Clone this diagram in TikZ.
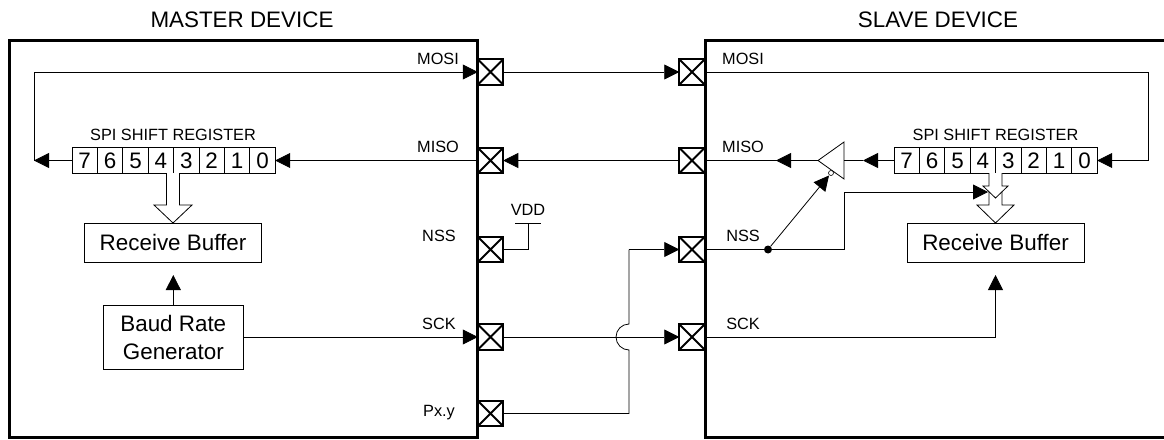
\documentclass[tikz,border=0pt]{standalone}
\usepackage{fontspec}
\setmainfont{Liberation Sans}
\usetikzlibrary{arrows.meta,positioning}
\begin{document}
\begin{tikzpicture}[
  x=1pt, y=-1pt,
  dev/.style={draw, line width=3pt},
  pad/.style={draw, line width=1.8pt, minimum size=25.5pt, inner sep=0pt, outer sep=0pt, path picture={\draw[line width=1.8pt] (path picture bounding box.north west) -- (path picture bounding box.south east) (path picture bounding box.north east) -- (path picture bounding box.south west);}},
  bit/.style={draw, line width=0.8pt, minimum width=25.4pt, minimum height=25.4pt, inner sep=0pt, outer sep=0pt, font=\fontsize{22.4}{22.4}\selectfont},
  buf/.style={draw, line width=0.8pt, align=center, inner sep=0pt, outer sep=0pt, font=\fontsize{22.4}{28}\selectfont},
  lbl/.style={font=\fontsize{16.3}{16.3}\selectfont},
  ttl/.style={font=\fontsize{22.4}{22.4}\selectfont},
  wire/.style={line width=0.8pt},
  arr/.style={wire, -{Triangle[length=15pt,width=15pt]}},
  hollow/.style={draw, line width=0.8pt, fill=white},
  dot/.style={circle, fill=black, inner sep=0pt, minimum size=8pt},
  bubble/.style={circle, draw, fill=white, line width=0.6pt, inner sep=0pt, minimum size=5pt}
]
\useasboundingbox (0,0) rectangle (1164,439);
% Devices
\node[ttl] (mtitle) at (242, 20) {MASTER DEVICE};
\node[ttl] (stitle) at (938, 20) {SLAVE DEVICE};
\draw[dev] (9, 40) rectangle (477, 437.5);
\draw[dev] (1166, 40) -- (705, 40) -- (705, 437.5) -- (1166, 437.5);

% Pads
\foreach \nm/\yy in {mosi/72, miso/160.5, nss/249.5, sck/337, pxy/413.5} {
  \node[pad] (m\nm) at (490.5, \yy) {};
}
\foreach \nm/\yy in {mosi/72, miso/160.5, nss/249.5, sck/337} {
  \node[pad] (s\nm) at (692, \yy) {};
}

% Pin labels
\node[lbl] (lmmosi) at (438, 59) {MOSI};
\node[lbl] (lmmiso) at (438, 147) {MISO};
\node[lbl] (lmnss) at (439, 236) {NSS};
\node[lbl] (lmsck) at (439, 324) {SCK};
\node[lbl] (lmpxy) at (439, 413) {Px.y};
\node[lbl] (lsmosi) at (743, 59) {MOSI};
\node[lbl] (lsmiso) at (743, 147) {MISO};
\node[lbl] (lsnss) at (743, 236) {NSS};
\node[lbl] (lssck) at (743, 324) {SCK};
\node[lbl] (lvdd) at (528, 210) {VDD};

% Shift registers
\foreach \n [count=\i from 0] in {7,6,5,4,3,2,1,0} {
  \node[bit] (ma\n) at (84.7+25.4*\i, 160.5) {\n};
  \node[bit] (sa\n) at (906.7+25.4*\i, 160.5) {\n};
}
\node[lbl] (mreg) at (173, 135) {SPI SHIFT REGISTER};
\node[lbl] (sreg) at (995.5, 135) {SPI SHIFT REGISTER};

% Buffers
\node[buf, minimum width=177pt, minimum height=39pt] (mbuf) at (173, 242.5) {Receive Buffer};
\node[buf, minimum width=140pt, minimum height=64pt] (baud) at (173.3, 337) {Baud Rate\\Generator};
\node[buf, minimum width=177pt, minimum height=39pt] (sbuf) at (995.5, 242.5) {Receive Buffer};

% Open arrows
\draw[hollow] (166.5, 173) -- (166.5, 205) -- (154, 205) -- (173, 223) -- (192, 205) -- (179.5, 205) -- (179.5, 173);
\draw[hollow] (989, 192) -- (989, 205) -- (977, 205) -- (995.5, 223) -- (1014, 205) -- (1002, 205) -- (1002, 192);
\draw[hollow] (989, 173) -- (989, 186) -- (983, 186) -- (995.5, 198) -- (1008, 186) -- (1002, 186) -- (1002, 173);

% Points the wires turn at
\coordinate (mturn) at (34, 160.5);
\coordinate (mbufin) at (173.3, 275);
\coordinate (sturn) at (1148, 160.5);
\coordinate (sbufin) at (995.5, 275);
\coordinate (tritip) at (818, 160.5);
\coordinate (tribase) at (844, 160.5);
\coordinate (triin) at (863, 160.5);
\coordinate (triout) at (776, 160.5);
\coordinate (enin) at (829, 175.5);
\coordinate (nssup) at (844, 192);
\coordinate (nssin) at (988, 192);
\coordinate (hopb) at (629, 350);
\coordinate (hopt) at (629, 324);
\coordinate (vddtop) at (528, 223);
\coordinate (vddl) at (515, 223);
\coordinate (vddr) at (541, 223);

% Tristate driver
\draw[wire, fill=white] (tritip) -- (844, 142) -- (844, 179) -- cycle;
\node[bubble] (en) at (831, 173) {};
\node[dot] (nssdot) at (768, 249.5) {};

% Master wires
\draw[arr] (mmiso) -- (ma0);
\draw[arr] (ma7) -- (mturn);
\draw[arr] (mturn) |- (mmosi);
\draw[arr] (baud) -- (mbufin);
\draw[arr] (baud) -- (msck);

% Between the devices
\draw[arr] (mmosi) -- (smosi);
\draw[arr] (smiso) -- (mmiso);
\draw[arr] (msck) -- (ssck);
\draw[wire] (mpxy) -| (hopb) arc[start angle=90, end angle=270, radius=13] -- (hopt |- snss);
\draw[arr] (hopt |- snss) -- (snss);
\draw[wire] (mnss) -| (vddtop);
\draw[wire] (vddl) -- (vddr);

% Slave wires
\draw[arr] (smosi) -| (sturn) -- (sa0);
\draw[arr] (sa7) -- (triin);
\draw[wire] (triin) -- (tribase);
\draw[wire] (tritip) -- (smiso);
\draw[arr] (tritip) -- (triout);
\draw[wire] (snss) -- (nssdot);
\draw[arr] (nssdot) -- (enin);
\draw[arr] (nssdot) -| (nssup) -- (nssin);
\draw[arr] (ssck) -| (sbufin);
\end{tikzpicture}
\end{document}
